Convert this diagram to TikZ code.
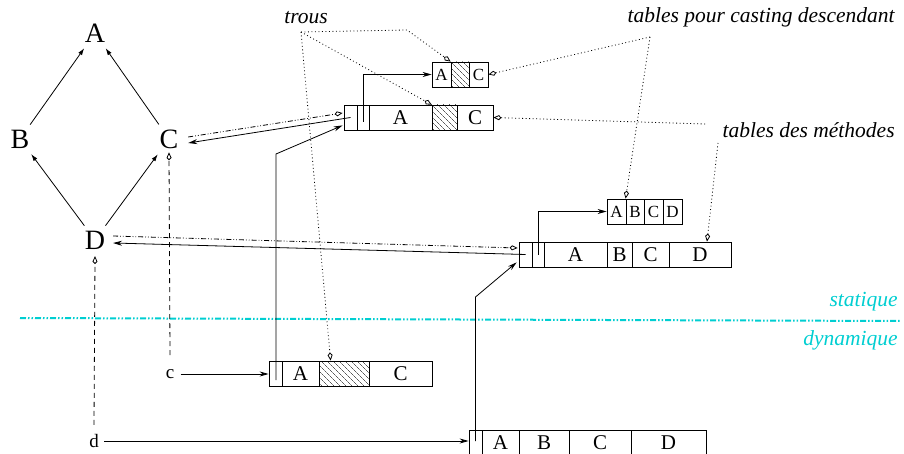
\documentclass[tikz,border=0pt]{standalone}
\usepackage{fontspec}
\setmainfont{Liberation Serif}
\usetikzlibrary{arrows.meta,patterns.meta,calc}
\definecolor{cyanline}{RGB}{0,206,209}
\begin{document}
\begin{tikzpicture}[x=1pt,y=-1pt,line width=0.8pt,
  gnode/.style={font=\fontsize{28}{30}\selectfont, inner sep=1.5pt},
  gedge/.style={-{Latex[length=7pt,width=4.5pt]}, shorten >=5pt, shorten <=4pt},
  cell/.style={draw, minimum height=25pt, inner sep=0pt, font=\fontsize{21}{22}\selectfont, anchor=center},
  scell/.style={cell, font=\fontsize{17}{18}\selectfont},
  hatch/.style={pattern={Lines[angle=-45,distance=4pt,line width=0.4pt]}},
  ptr/.style={-{Stealth[length=9pt,width=5pt]}},
  kite/.style={-{Kite[open,length=8pt,width=5pt,inset=2.5pt]}},
  dashdots/.style={dash pattern=on 5pt off 2pt on 0.8pt off 2pt on 0.8pt off 2pt},
  dots/.style={dash pattern=on 0.9pt off 2.6pt},
  dsh/.style={dash pattern=on 5pt off 4pt},
  lbl/.style={font=\fontsize{19}{20}\selectfont, inner sep=2pt},
  note/.style={font=\fontsize{21.5}{23}\selectfont\itshape, inner sep=0pt},
  cnote/.style={note, text=cyanline, anchor=east},
  sep/.style={cyanline, line width=2pt, dash pattern=on 6pt off 2pt on 1.5pt off 2pt on 1.5pt off 2pt}
]
\useasboundingbox (0,0) rectangle (904,454);

% graph
\node[gnode] (A) at (95,33) {A};
\node[gnode] (B) at (20,139) {B};
\node[gnode] (C) at (169,139) {C};
\node[gnode] (D) at (95,240) {D};
\draw[gedge] (B) -- (A);
\draw[gedge] (C) -- (A);
\draw[gedge] (D) -- (B);
\draw[gedge] (D) -- (C);

% method table of C
\node[cell, minimum width=13pt] (cT0) at (350.5,117.5) {};
\node[cell, minimum width=12pt] (cT1) at (363,117.5) {};
\node[cell, minimum width=63pt] (cTA) at (400.5,117.5) {A};
\node[cell, hatch, minimum width=25pt] (cTH) at (444.5,117.5) {};
\node[cell, minimum width=36pt] (cTC) at (475,117.5) {C};

% casting table of C
\node[scell, minimum width=19pt] (sCA) at (441.5,74.5) {A};
\node[scell, hatch, minimum width=18pt] (sCH) at (460,74.5) {};
\node[scell, minimum width=19pt] (sCC) at (478.5,74.5) {C};

% method table of D
\node[cell, minimum width=13pt] (dT0) at (525.5,254.5) {};
\node[cell, minimum width=12pt] (dT1) at (538,254.5) {};
\node[cell, minimum width=63pt] (dA) at (575.5,254.5) {A};
\node[cell, minimum width=25pt] (dB) at (619.5,254.5) {B};
\node[cell, minimum width=37pt] (dC) at (650.5,254.5) {C};
\node[cell, minimum width=62pt] (dD) at (700,254.5) {D};

% casting table of D
\node[scell, minimum width=19pt] (sDA) at (616.5,211.5) {A};
\node[scell, minimum width=18pt] (sDB) at (635,211.5) {B};
\node[scell, minimum width=19pt] (sDC) at (653.5,211.5) {C};
\node[scell, minimum width=19pt] (sDD) at (672.5,211.5) {D};

% instance c
\node[cell, minimum width=13pt] (ci0) at (275.5,373.5) {};
\node[cell, minimum width=37pt] (ciA) at (300.5,373.5) {A};
\node[cell, hatch, minimum width=50pt] (ciH) at (344,373.5) {};
\node[cell, minimum width=63pt] (ciC) at (400.5,373.5) {C};

% instance d
\node[cell, minimum width=13pt, minimum height=26pt] (di0) at (475.5,443) {};
\node[cell, minimum width=37pt, minimum height=26pt] (diA) at (500.5,443) {A};
\node[cell, minimum width=50pt, minimum height=26pt] (diB) at (544,443) {B};
\node[cell, minimum width=62pt, minimum height=26pt] (diC) at (600,443) {C};
\node[cell, minimum width=75pt, minimum height=26pt] (diD) at (668.5,443) {D};

% variables
\node[lbl] (c) at (170,374) {c};
\node[lbl] (d) at (94,441) {d};

% labels
\node[note] (trous) at (306,18) {trous};
\node[note, anchor=east] (cast) at (895,17) {tables pour casting descendant};
\node[note, anchor=east] (meth) at (895,130) {tables des méthodes};
\node[cnote] (stat) at (898,302) {statique};
\node[cnote] (dyn) at (898,340) {dynamique};

% static / dynamic separator
\coordinate (sepL) at (20,318);
\coordinate (sepR) at (900,321);
\draw[sep] (sepL) -- (sepR);

% pointers from tables to casting tables
\draw[ptr] ($(cT1.center)+(0,4.5)$) |- (sCA.west);
\draw[ptr] (dT1.center) |- (sDA.west);

% tables to classes
\draw[ptr] (cT0.center) -- ($(C.east)+(8,4)$);
\draw[dashdots,kite] ($(C.east)+(8,-2)$) -- ($(cT0.west)+(-1,-4.5)$);
\draw[ptr] (dT0.center) -- ($(D.east)+(6,3)$);
\draw[dashdots,kite] ($(D.east)+(6,-4)$) -- ($(dT0.west)+(-1,-6.5)$);

% instances to tables
\draw[ptr] ($(ci0.center)+(0.5,6.5)$) -- ++(0,-226) -- ($(cT0.south west)+(-1,-5)$);
\draw[ptr] ($(di0.center)+(0,-2)$) -- ++(0,-144) -- ($(dT0.south west)+(-2,-5)$);

% variables to instances
\draw[ptr] ($(c.east)+(4,0)$) -- (c.east -| ci0.west);
\draw[ptr] ($(d.east)+(3,0)$) -- (d.east -| di0.west);

% variables to static types
\draw[dsh,kite] ($(c.north)+(0,-12)$) -- ($(C.south)+(0,2)$);
\draw[dsh,kite] ($(d.north)+(0,-7)$) -- ($(D.south)+(0,5)$);

% annotation lines: trous
\coordinate (tr) at (301,32);
\coordinate (trb) at (407,30);
\draw[dots,kite] (tr) -- (trb) -- (sCH.north west);
\draw[dots,kite] (tr) -- (cTH.north west);
\draw[dots,kite] (tr) -- ($(ciH.north west)+(12,0)$);

% annotation lines: casting tables
\coordinate (ca) at (650,37);
\draw[dots,kite] (ca) -- (sCC.east);
\draw[dots,kite] (ca) -- (sDB.north west);

% annotation lines: method tables
\coordinate (me1) at (705,124);
\coordinate (me2) at (718,143);
\draw[dots,kite] (me1) -- (cTC.east);
\draw[dots,kite] (me2) -- ($(dD.north)+(7,0)$);
\end{tikzpicture}
\end{document}
